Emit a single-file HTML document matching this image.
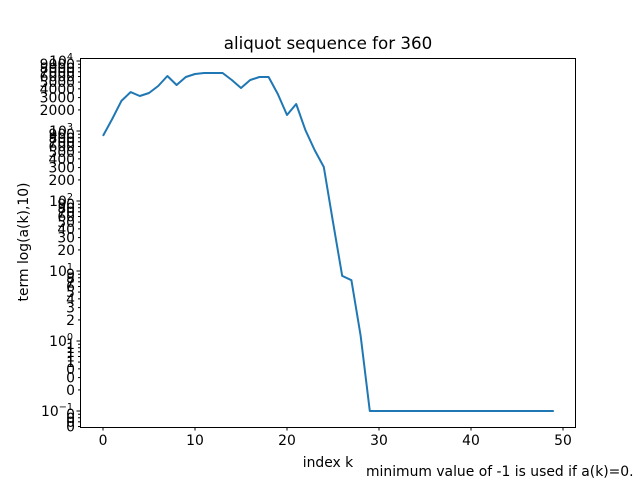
<!DOCTYPE html>
<html><head><meta charset="utf-8"><style>
body{margin:0;background:#fff;}
svg{font-family:"DejaVu Sans","Liberation Sans",sans-serif;}
</style></head><body>
<svg id="chart" width="640" height="480" xmlns="http://www.w3.org/2000/svg">
<rect width="640" height="480" fill="#fff"/>
<text x="328" y="49" font-size="16.7" text-anchor="middle">aliquot sequence for 360</text>
<text x="328" y="467" font-size="13.9" text-anchor="middle">index k</text>
<text x="366" y="476" font-size="13.9">minimum value of -1 is used if a(k)=0.</text>
<text transform="translate(28,242) rotate(-90)" font-size="13.9" text-anchor="middle">term log(a(k),10)</text>
<g id="plot"></g>
<rect x="80.5" y="58.5" width="495" height="369" fill="none" stroke="#000" stroke-width="1"/>
</svg>
<script>
const xTicks=[0,10,20,30,40,50];
const values=[850,1484,2690,3600,3160,3490,4390,6110,4540,5900,6520,6740,6740,6740,5350,4110,5350,5900,5900,3380,1690,2430,1030,535,306,50,8.5,7.4,1.2,0.1,0.1,0.1,0.1,0.1,0.1,0.1,0.1,0.1,0.1,0.1,0.1,0.1,0.1,0.1,0.1,0.1,0.1,0.1,0.1,0.1];
const decades=[-2,-1,0,1,2,3,4];
const NS="http://www.w3.org/2000/svg";
const g=document.getElementById('plot');
const X0=80,X1=576,Y0=58,Y1=427;
function xs(v){return 103+(v-0)*(563-103)/50;}
function ys(v){return 341-Math.log10(v)*70;}
function mk(t,a){const e=document.createElementNS(NS,t);for(const k in a)e.setAttribute(k,a[k]);g.appendChild(e);return e;}
xTicks.forEach(t=>{
  const l=mk('line',{x1:xs(t),x2:xs(t),y1:Y1,y2:Y1+3.5,stroke:'#000'});
  
  
  const tx=mk('text',{x:xs(t),y:Y1+18,'font-size':13.9,'text-anchor':'middle'});
  tx.textContent=t;
  
  
});
function fmtMinor(v){return String(Math.round(v));}
decades.forEach(d=>{
  for(let m=1;m<10;m++){
    const v=m*Math.pow(10,d);const y=ys(v);
    if(y<Y0-0.5||y>Y1+0.5)continue;
    const major=m===1;
    const l=mk('line',{x1:X0,x2:X0-(major?3.5:2),y1:y,y2:y,stroke:'#000'});
    
    
    if(major){
      const tx=mk('text',{x:X0-7,y:y+5,'font-size':13.9,'text-anchor':'end'});
      tx.innerHTML='10<tspan font-size="9.7" dy="-6">'+(d<0?'−'+(-d):d)+'</tspan>';
      
      
    }else{
      const tx=mk('text',{x:X0-5,y:y+5,'font-size':13.9,'text-anchor':'end'});
      tx.textContent=fmtMinor(v);
      
      
    }
  }
});
const pts=values.map((v,i)=>xs(i).toFixed(1)+','+ys(v).toFixed(1)).join(' ');
const p=mk('polyline',{points:pts,fill:'none',stroke:'#1f77b4','stroke-width':2,'stroke-linejoin':'round'});


</script>
</body></html>
